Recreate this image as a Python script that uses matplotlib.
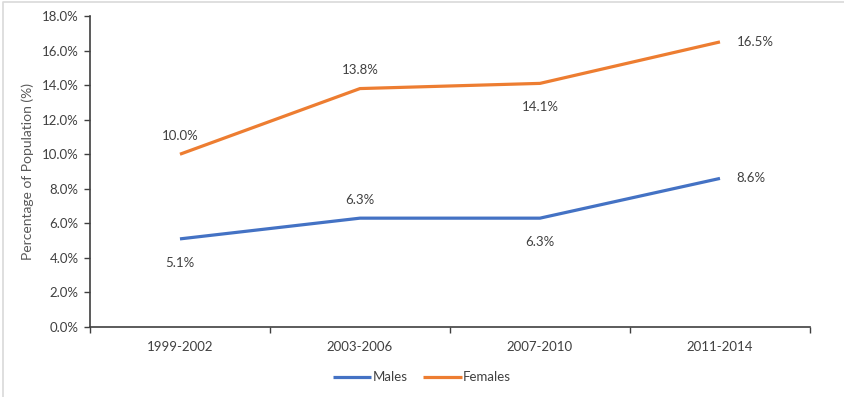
import matplotlib
matplotlib.use("Agg")
import matplotlib.pyplot as plt
from matplotlib.lines import Line2D

periods = ["1999-2002", "2003-2006", "2007-2010", "2011-2014"]
males = [5.1, 6.3, 6.3, 8.6]
females = [10.0, 13.8, 14.1, 16.5]
# where each data label sits relative to its point
males_pos = ["below", "above", "below", "right"]
females_pos = ["above", "above", "below", "right"]

plt.rcParams['font.family'] = ['Lato', 'DejaVu Sans']
txt = '#404040'

fig = plt.figure(figsize=(8.44, 3.97), dpi=100)
ax = fig.add_axes([0.1066, 0.1763, 0.8531, 0.7834])

x = list(range(len(periods)))
ax.plot(x, males, color='#4472C4', lw=2.3, label='Males', solid_capstyle='butt')
ax.plot(x, females, color='#ED7D31', lw=2.3, label='Females', solid_capstyle='butt')


def label_points(vals, where):
    for i, (v, w) in enumerate(zip(vals, where)):
        s = f"{v:.1f}%"
        if w == 'above':
            ax.annotate(s, (i, v), xytext=(0, 9), textcoords='offset points',
                        ha='center', va='bottom', fontsize=9.5, color=txt)
        elif w == 'below':
            ax.annotate(s, (i, v), xytext=(0, -13), textcoords='offset points',
                        ha='center', va='top', fontsize=9.5, color=txt)
        else:
            ax.annotate(s, (i, v), xytext=(12, 0), textcoords='offset points',
                        ha='left', va='center', fontsize=9.5, color=txt)


label_points(males, males_pos)
label_points(females, females_pos)

ax.set_xlim(-0.5, len(periods) - 0.5)
ax.set_ylim(0, 18)
ax.set_yticks(range(0, 19, 2))
ax.set_yticklabels([f"{t:.1f}%" for t in range(0, 19, 2)])
ax.set_xticks(x)
ax.set_xticklabels(periods)
ax.set_xticks([i + 0.5 for i in range(-1, len(periods))], minor=True)
ax.tick_params(axis='x', which='major', length=0, pad=10, labelsize=9.5, labelcolor=txt)
ax.tick_params(axis='x', which='minor', length=4, width=1, color='#404040', direction='out')
ax.tick_params(axis='y', length=4, width=1, color='#404040', labelsize=9.5, labelcolor=txt, pad=4)
ax.set_ylabel("Percentage of Population (%)", fontsize=10, color='#595959', labelpad=6)

for s in ['top', 'right']:
    ax.spines[s].set_visible(False)
for s in ['left', 'bottom']:
    ax.spines[s].set_color('#404040')
    ax.spines[s].set_linewidth(1.2)

leg = fig.legend(loc='center', bbox_to_anchor=(0.5, 0.05), ncol=2, frameon=False,
                 fontsize=9.5, handlelength=2.9, handletextpad=0.1, columnspacing=1.2)
for t in leg.get_texts():
    t.set_color(txt)

# light frame on top and left edges only
fig.lines.append(Line2D([0.003, 0.003, 1.0], [0.0, 0.995, 0.995], transform=fig.transFigure,
                        color='#d9d9d9', lw=1.2))

fig.savefig("out.png", dpi=100)
